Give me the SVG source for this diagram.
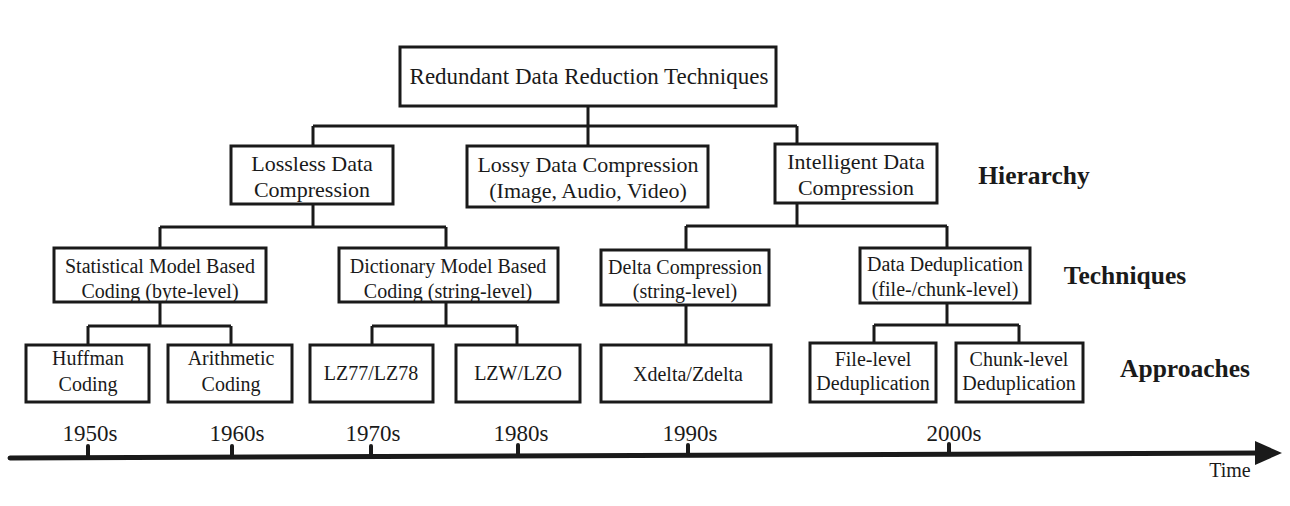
<svg xmlns="http://www.w3.org/2000/svg" width="1290" height="506" viewBox="0 0 1290 506">
<style>
.box{fill:#fff;stroke:#1a1a1a;stroke-width:3}
.ln{fill:none;stroke:#1a1a1a;stroke-width:3}
.t{font-family:"Liberation Serif","Times New Roman",serif;fill:#1a1a1a;text-anchor:middle}
.t23{font-size:23px}
.t22{font-size:22px}
.t20{font-size:20px}
.lab{font-family:"Liberation Serif","Times New Roman",serif;font-weight:bold;font-size:25.5px;fill:#1a1a1a;text-anchor:middle}
.tick{stroke:#1a1a1a;stroke-width:4;stroke-linecap:round}
</style>
<rect width="1290" height="506" fill="#fff"/>
<g id="connectors">
<path class="ln" d="M588,106 V126 M313,126 H797 M313,126 V146 M588,126 V146 M797,126 V144"/>
<path class="ln" d="M313,204 V227 M160,227 H446 M160,227 V248 M446,227 V248"/>
<path class="ln" d="M797,203 V226 M686,226 H947 M686,226 V250 M947,226 V248"/>
<path class="ln" d="M160,302 V326 M88,326 H231 M88,326 V345 M231,326 V345"/>
<path class="ln" d="M446,302 V326 M372,326 H517 M372,326 V345 M517,326 V345"/>
<path class="ln" d="M686,305 V345"/>
<path class="ln" d="M947,303 V325 M874,325 H1019 M874,325 V343 M1019,325 V343"/>
</g>
<g id="n-root"><rect class="box" x="400" y="47" width="376" height="59"/><text class="t t23" x="589" y="84">Redundant Data Reduction Techniques</text></g>
<g id="n-lossless"><rect class="box" x="231" y="146" width="162" height="58"/><text class="t t22" x="312" y="171">Lossless Data</text><text class="t t22" x="312" y="197">Compression</text></g>
<g id="n-lossy"><rect class="box" x="467" y="146" width="241" height="61"/><text class="t t22" x="588" y="172">Lossy Data Compression</text><text class="t t22" x="588" y="198">(Image, Audio, Video)</text></g>
<g id="n-intelligent"><rect class="box" x="775" y="144" width="162" height="59"/><text class="t t22" x="856" y="169">Intelligent Data</text><text class="t t22" x="856" y="195">Compression</text></g>
<g id="n-statistical"><rect class="box" x="54" y="248" width="212" height="54"/><text class="t t20" x="160" y="273">Statistical Model Based</text><text class="t t20" x="160" y="298">Coding (byte-level)</text></g>
<g id="n-dictionary"><rect class="box" x="339" y="248" width="219" height="54"/><text class="t t20" x="448" y="273">Dictionary Model Based</text><text class="t t20" x="448" y="298">Coding (string-level)</text></g>
<g id="n-delta"><rect class="box" x="601" y="250" width="168" height="55"/><text class="t t20" x="685" y="274">Delta Compression</text><text class="t t20" x="685" y="298">(string-level)</text></g>
<g id="n-dedup"><rect class="box" x="860" y="248" width="170" height="55"/><text class="t t20" x="945" y="271">Data Deduplication</text><text class="t t20" x="945" y="296">(file-/chunk-level)</text></g>
<g id="n-huffman"><rect class="box" x="26" y="345" width="123" height="57"/><text class="t t20" x="88" y="365">Huffman</text><text class="t t20" x="88" y="391">Coding</text></g>
<g id="n-arith"><rect class="box" x="168" y="345" width="124" height="57"/><text class="t t20" x="231" y="365">Arithmetic</text><text class="t t20" x="231" y="391">Coding</text></g>
<g id="n-lz77"><rect class="box" x="310" y="345" width="123" height="57"/><text class="t t20" x="371" y="380">LZ77/LZ78</text></g>
<g id="n-lzw"><rect class="box" x="456" y="345" width="124" height="57"/><text class="t t20" x="518" y="380">LZW/LZO</text></g>
<g id="n-xdelta"><rect class="box" x="601" y="345" width="170" height="57"/><text class="t t20" x="688" y="381">Xdelta/Zdelta</text></g>
<g id="n-filelevel"><rect class="box" x="810" y="343" width="126" height="59"/><text class="t t20" x="873" y="366">File-level</text><text class="t t20" x="873" y="390">Deduplication</text></g>
<g id="n-chunklevel"><rect class="box" x="956" y="343" width="127" height="59"/><text class="t t20" x="1019" y="366">Chunk-level</text><text class="t t20" x="1019" y="390">Deduplication</text></g>
<g id="labels">
<text class="lab" x="1034" y="184">Hierarchy</text>
<text class="lab" x="1125" y="284">Techniques</text>
<text class="lab" x="1185" y="377">Approaches</text>
</g>
<g id="timeline">
<path d="M10,458 L1262,453" stroke="#1a1a1a" stroke-width="5" stroke-linecap="round" fill="none"/>
<polygon points="1255,441 1282,453 1255,465" fill="#1a1a1a"/>
<line class="tick" x1="88" y1="446" x2="88" y2="457"/>
<line class="tick" x1="232" y1="446" x2="232" y2="457"/>
<line class="tick" x1="371" y1="446" x2="371" y2="456"/>
<line class="tick" x1="518" y1="445" x2="518" y2="456"/>
<line class="tick" x1="688" y1="445" x2="688" y2="455"/>
<line class="tick" x1="949" y1="444" x2="949" y2="454"/>
<text class="t t23" x="90" y="441">1950s</text>
<text class="t t23" x="237" y="441">1960s</text>
<text class="t t23" x="373" y="441">1970s</text>
<text class="t t23" x="521" y="441">1980s</text>
<text class="t t23" x="690" y="441">1990s</text>
<text class="t t23" x="954" y="441">2000s</text>
<text class="t t20" x="1230" y="477">Time</text>
</g>
</svg>
